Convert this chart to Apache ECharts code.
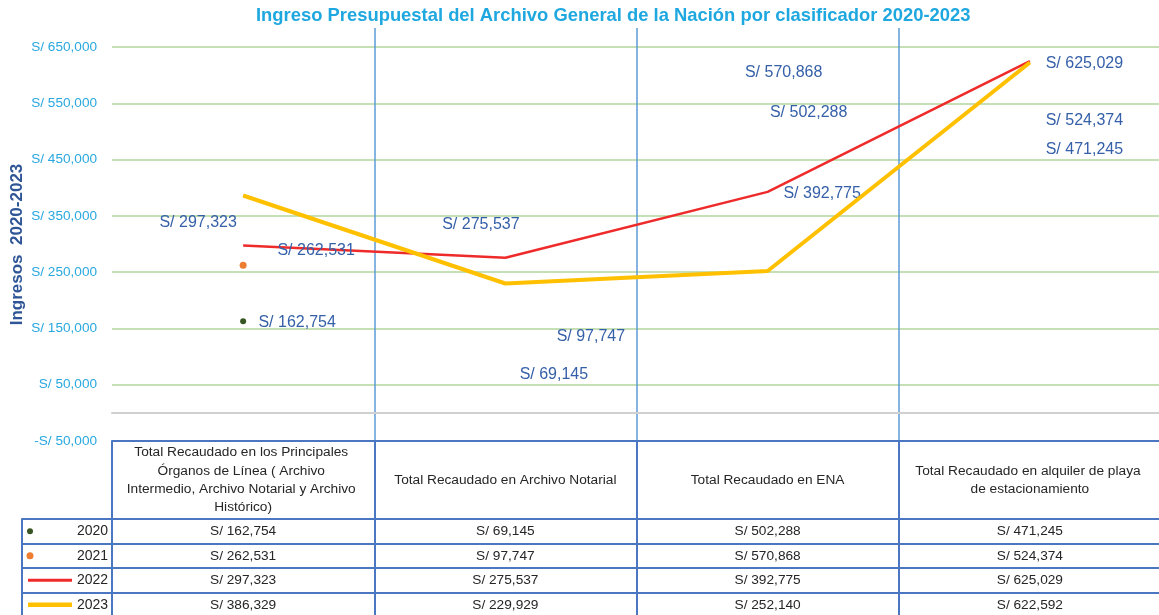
<!DOCTYPE html>
<html><head><meta charset="utf-8">
<script src="https://cdn.jsdelivr.net/npm/echarts@6/dist/echarts.min.js"></script>
<style>html,body{margin:0;padding:0;background:#fff}#chart{width:1159px;height:615px}</style>
</head><body><div id="chart"></div>
<script>
// ---------- data ----------
const categories = [
  'Total Recaudado en los Principales Órganos de Línea ( Archivo Intermedio, Archivo Notarial y Archivo Histórico)',
  'Total Recaudado en Archivo Notarial',
  'Total Recaudado en ENA',
  'Total Recaudado en alquiler de playa de estacionamiento'
];
const years = ['2020', '2021', '2022', '2023'];
const values2020 = [162754, 69145, 502288, 471245];
const values2021 = [262531, 97747, 570868, 524374];
const values2022 = [297323, 275537, 392775, 625029];
const values2023 = [386329, 229929, 252140, 622592];
const yMin = -50000, yMax = 684000, yStep = 100000;

// ---------- styling ----------
const FONT = 'Liberation Sans, Arial, sans-serif';
const labelBlue = '#3560A8';
const tableBlue = '#4A76C2';
const tableText = '#262626';
const c2020 = '#375623', c2021 = '#ED7D31', c2022 = '#EE2A2A', c2023 = '#FFC000';
const labelOffsets2020 = [[54, 1], [48.5, 1], [41, -18], [54.5, 2]];
const labelOffsets2021 = [[73, -14.5], [85.5, -21], [16, -19], [54.5, 2.3]];
const labelOffsets2022 = [[-45, -23], [-24.5, -33], [54.5, 1.5], [54.5, 2]];
const markerShown2020 = [true, false, false, false];
const markerShown2021 = [true, false, false, false];
const headH = 78, rowH = 24.5;

function fmt(v) { return String(Math.abs(v)).replace(/\B(?=(\d{3})+(?!\d))/g, ','); }
function money(v) { return (v < 0 ? '-' : '') + 'S/ ' + fmt(v); }

const valueLabel = { show: true, position: 'inside', color: labelBlue, fontFamily: FONT, fontSize: 16, textBorderWidth: 0, formatter: p => money(p.value) };

function pointData(vals, offsets, shown, size) {
  return vals.map((v, i) => ({ value: v, symbolSize: shown[i] ? size : 0, label: { offset: offsets[i] } }));
}

function tableAxis(offset, height, labelOpt) {
  return {
    type: 'category', data: categories, gridIndex: 0, position: 'bottom', offset: offset,
    axisLine: { show: true, onZero: false, lineStyle: { color: tableBlue, width: 2 } },
    axisTick: { show: true, interval: 0, alignWithLabel: false, length: height, lineStyle: { color: tableBlue, width: 2 } },
    splitLine: { show: false },
    axisLabel: Object.assign({ interval: 0, margin: height / 2, verticalAlign: 'middle', align: 'center', color: tableText, fontFamily: FONT, fontSize: 13.7, hideOverlap: false }, labelOpt)
  };
}

const rowSeries = [values2020, values2021, values2022, values2023];
const xAxes = [
  {
    type: 'category', data: categories, gridIndex: 0, position: 'bottom',
    axisLine: { show: true, onZero: true, lineStyle: { color: '#D0D0D0', width: 2 } },
    axisTick: { show: false }, axisLabel: { show: false },
    splitLine: { show: true, interval: 0, showMinLine: false, lineStyle: { color: '#5B9BD5', width: 1.5 } }
  },
  tableAxis(0, headH, { width: 235, overflow: 'break', lineHeight: 18.3 })
];
rowSeries.forEach((vals, k) => {
  xAxes.push(tableAxis(headH + rowH * k, rowH, { formatter: (val, idx) => money(vals[idx]) }));
});
xAxes.push({ type: 'value', gridIndex: 1, show: false });

const dotIcon = r => `path://M0,0M46,8M${4 - r},4a${r},${r} 0 1,0 ${2 * r},0a${r},${r} 0 1,0 ${-2 * r},0z`;
const lineIcon = t => `path://M0,0M46,8M2,${4 - t / 2}h44v${t}h-44z`;

const option = {
  animation: false,
  backgroundColor: '#fff',
  title: {
    text: 'Ingreso Presupuestal del Archivo General de la Nación por clasificador 2020-2023',
    left: 256, top: 7, padding: 0,
    textStyle: { fontFamily: FONT, fontSize: 18.4, fontWeight: 'bold', color: '#1FA8E0' }
  },
  legend: {
    orient: 'vertical', left: 26, top: 524.25, padding: 0,
    itemWidth: 46, itemHeight: 8, itemGap: 10.5, selectedMode: false,
    itemStyle: { borderWidth: 0 },
    textStyle: { fontFamily: FONT, fontSize: 14, lineHeight: 14, color: tableText },
    data: [
      { name: '2020', icon: dotIcon(3) },
      { name: '2021', icon: dotIcon(3.5) },
      { name: '2022', icon: lineIcon(3) },
      { name: '2023', icon: lineIcon(4.5) }
    ]
  },
  grid: [
    { left: 112, right: -2, top: 28, bottom: 174, outerBoundsMode: 'none', containLabel: false },
    { left: 22, width: 90, top: 519, height: rowH * 4, outerBoundsMode: 'none', containLabel: false }
  ],
  xAxis: xAxes,
  yAxis: [
    {
      type: 'value', gridIndex: 0, min: yMin, max: yMax, interval: yStep,
      name: 'Ingresos  2020-2023', nameLocation: 'middle', nameGap: 86, nameRotate: 90, nameMoveOverlap: false,
      nameTextStyle: { fontFamily: FONT, fontSize: 17, fontWeight: 'bold', color: '#2F5597', padding: [0, 20, 0, 0] },
      axisLine: { show: false }, axisTick: { show: false },
      axisLabel: { margin: 15, color: '#29A8E0', fontFamily: FONT, fontSize: 13.6, formatter: v => (v >= yMax ? '' : money(v)) },
      splitLine: { show: true, showMaxLine: false, lineStyle: { color: '#C5E0B4', width: 2 } }
    },
    {
      type: 'category', gridIndex: 1, data: years, inverse: true,
      axisLine: { show: true, lineStyle: { color: tableBlue, width: 2 } },
      axisTick: { show: false }, axisLabel: { show: false },
      splitLine: { show: true, interval: 0, lineStyle: { color: tableBlue, width: 2 } }
    }
  ],
  series: [
    {
      name: '2022', type: 'line', xAxisIndex: 0, yAxisIndex: 0,
      data: values2022.map((v, i) => ({ value: v, label: { offset: labelOffsets2022[i] } })),
      symbol: 'circle', symbolSize: 0, showSymbol: true, showAllSymbol: true,
      lineStyle: { color: c2022, width: 2.5 }, itemStyle: { color: c2022 },
      label: valueLabel, emphasis: { disabled: true }, silent: true, z: 3
    },
    {
      name: '2023', type: 'line', xAxisIndex: 0, yAxisIndex: 0,
      data: values2023, symbol: 'none',
      lineStyle: { color: c2023, width: 4 }, itemStyle: { color: c2023 },
      emphasis: { disabled: true }, silent: true, z: 4
    },
    {
      name: '2020', type: 'scatter', xAxisIndex: 0, yAxisIndex: 0,
      data: pointData(values2020, labelOffsets2020, markerShown2020, 6),
      itemStyle: { color: c2020, opacity: 1 }, label: valueLabel,
      emphasis: { disabled: true }, silent: true, z: 5
    },
    {
      name: '2021', type: 'scatter', xAxisIndex: 0, yAxisIndex: 0,
      data: pointData(values2021, labelOffsets2021, markerShown2021, 7),
      itemStyle: { color: c2021, opacity: 1 }, label: valueLabel,
      emphasis: { disabled: true }, silent: true, z: 5
    }
  ]
};

const chart = echarts.init(document.getElementById('chart'), null, { renderer: 'canvas' });
chart.setOption(option);
</script>
</body></html>
